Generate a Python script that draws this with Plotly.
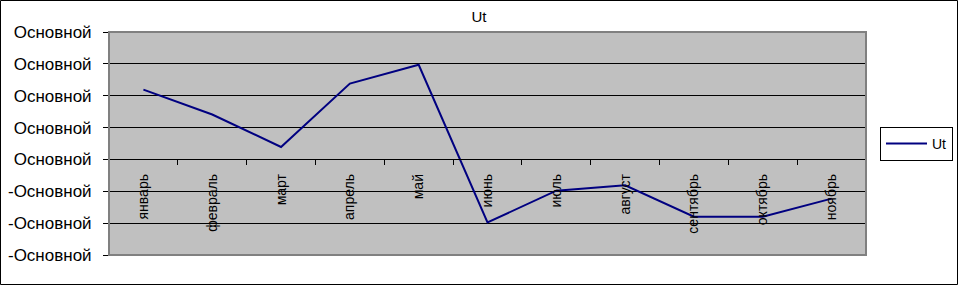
import plotly.graph_objects as go

months = ["январь", "февраль", "март", "апрель", "май", "июнь", "июль",
          "август", "сентябрь", "октябрь", "ноябрь"]
ut_values = [2.19, 1.41, 0.39, 2.38, 2.97, -1.98, -0.98, -0.81, -1.80, -1.80, -1.23]
y_tickvals = [-3, -2, -1, 0, 1, 2, 3, 4]
y_ticktext = ["-Основной", "-Основной", "-Основной", "Основной",
              "Основной", "Основной", "Основной", "Основной"]

W, H = 958, 285
L, R, T, B = 109, 866, 32, 255
pw, ph = R - L, B - T

def px_x(p):
    return (p - L) / pw

def px_y(p):
    return (B - p) / ph

font = "Liberation Sans, Arial, sans-serif"

fig = go.Figure()
fig.add_trace(go.Scatter(
    x=months, y=ut_values, mode="lines", name="Ut",
    line=dict(color="#000080", width=2),
))

fig.update_layout(
    width=W, height=H,
    margin=dict(l=L, r=W - R, t=T, b=H - B, autoexpand=False),
    paper_bgcolor="white",
    plot_bgcolor="#C0C0C0",
    font=dict(family=font, color="black"),
    title=dict(text="Ut", x=0.5, xref="container", y=1 - 17 / H, yref="container",
               xanchor="center", yanchor="middle", font=dict(size=15, family=font)),
    showlegend=True,
    legend=dict(x=px_x(880), y=px_y(127), xanchor="left", yanchor="top",
                bordercolor="black", borderwidth=1, bgcolor="white",
                itemwidth=41,
                font=dict(size=14, family=font)),
    xaxis=dict(
        type="category", range=[-0.5, 10.5],
        anchor="free", position=3 / 7,
        showline=True, linecolor="black", linewidth=1,
        ticks="outside", ticklen=5, tickcolor="black", tickson="boundaries",
        tickangle=-90, tickfont=dict(size=14, family=font),
        ticklabelstandoff=8, automargin=False,
        showgrid=False, zeroline=False,
    ),
    yaxis=dict(
        range=[-3, 4], tickvals=y_tickvals, ticktext=y_ticktext,
        showgrid=True, gridcolor="black", gridwidth=1,
        zeroline=False,
        showline=True, linecolor="black", linewidth=1,
        ticks="outside", ticklen=5, tickcolor="black",
        tickfont=dict(size=17, family=font),
        ticklabelstandoff=8, automargin=False,
    ),
    shapes=[
        dict(type="rect", xref="paper", yref="paper", x0=0, x1=1, y0=0, y1=1,
             line=dict(color="#808080", width=2), fillcolor="rgba(0,0,0,0)",
             layer="above"),
        dict(type="rect", xref="paper", yref="paper",
             x0=px_x(0.5), x1=px_x(957.5), y0=px_y(284.5), y1=px_y(0.5),
             line=dict(color="black", width=1), fillcolor="rgba(0,0,0,0)"),
    ],
)

fig.write_html("out.html")
